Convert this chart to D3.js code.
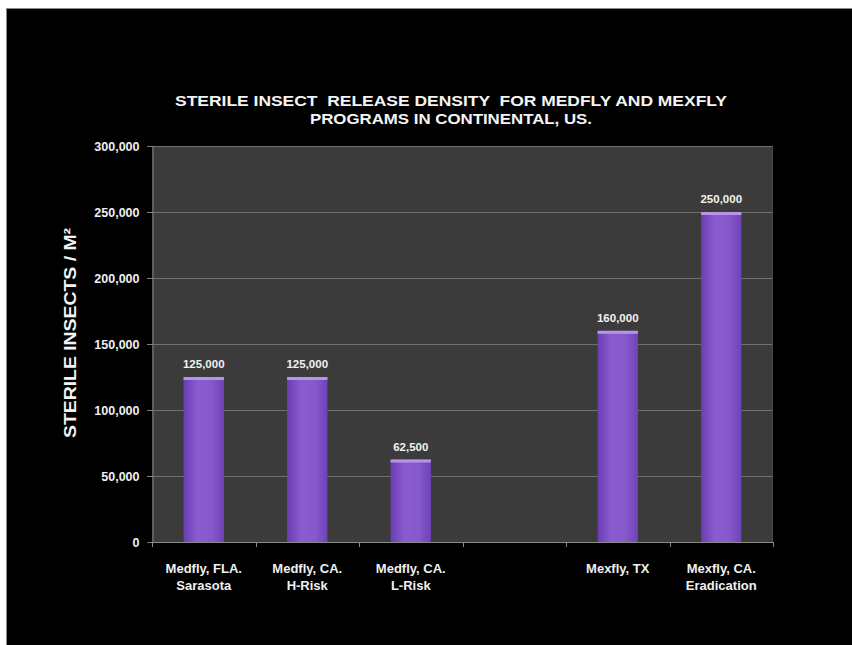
<!DOCTYPE html>
<html>
<head>
<meta charset="utf-8">
<script src="https://cdn.jsdelivr.net/npm/d3@7"></script>
<style>
  html, body { margin: 0; padding: 0; background: #ffffff; }
  svg { display: block; }
  text { font-family: "Liberation Sans", Arial, sans-serif; }
</style>
</head>
<body>
<svg id="chart" width="852" height="645"></svg>
<script>
// ---- data ----
const categoryLine1 = ["Medfly, FLA.", "Medfly, CA.", "Medfly, CA.", "", "Mexfly, TX", "Mexfly, CA."];
const categoryLine2 = ["Sarasota", "H-Risk", "L-Risk", "", "", "Eradication"];
const values = [125000, 125000, 62500, null, 160000, 250000];
const yTicks = [0, 50000, 100000, 150000, 200000, 250000, 300000];
const titleLines = ["STERILE INSECT  RELEASE DENSITY  FOR MEDFLY AND MEXFLY", "PROGRAMS IN CONTINENTAL, US."];
const yTitle = "STERILE INSECTS / M\u00B2";

// ---- layout ----
const svg = d3.select("#chart");
const plot = { left: 152, right: 773, top: 146, bottom: 542 };

// outer black slide frame
svg.append("rect").attr("x", 6.5).attr("y", 8.5).attr("width", 850).attr("height", 640)
  .attr("fill", "#000").attr("stroke", "#8a8a8a").attr("stroke-width", 1);

const idx = d3.range(values.length);
const x = d3.scaleBand().domain(idx).range([plot.left, plot.right])
  .paddingInner(0.61).paddingOuter(0.305);
const step = x.step();
const y = d3.scaleLinear().domain([0, 300000]).range([plot.bottom, plot.top]);

const defs = svg.append("defs");
const grad = defs.append("linearGradient").attr("id", "barGrad")
  .attr("x1", "0%").attr("x2", "100%").attr("y1", "0%").attr("y2", "0%");
grad.append("stop").attr("offset", "0%").attr("stop-color", "#6a3db4");
grad.append("stop").attr("offset", "35%").attr("stop-color", "#8b5ccf");
grad.append("stop").attr("offset", "70%").attr("stop-color", "#8658cb");
grad.append("stop").attr("offset", "100%").attr("stop-color", "#6e42b8");

// plot background
svg.append("rect").attr("x", plot.left).attr("y", plot.top)
  .attr("width", plot.right - plot.left).attr("height", plot.bottom - plot.top)
  .attr("fill", "#3b3b3b");

// gridlines
svg.append("g").selectAll("line").data(yTicks.filter(d => d > 0)).join("line")
  .attr("x1", plot.left - 5).attr("x2", plot.right)
  .attr("y1", d => Math.round(y(d)) + 0.5).attr("y2", d => Math.round(y(d)) + 0.5)
  .attr("stroke", "#707070").attr("stroke-width", 1);

// right border line
svg.append("line").attr("x1", plot.right - 0.5).attr("x2", plot.right - 0.5)
  .attr("y1", plot.top).attr("y2", plot.bottom).attr("stroke", "#4a4a4a");

// y axis
const yAxis = d3.axisLeft(y).tickValues(yTicks).tickSize(5).tickPadding(8)
  .tickFormat(d3.format(","));
const gy = svg.append("g").attr("transform", `translate(${plot.left + 0.5},0)`).call(yAxis);
gy.select(".domain").attr("stroke", "#808080");
gy.selectAll(".tick line").attr("stroke", "#808080");
gy.selectAll(".tick text").attr("fill", "#f0f0f0").attr("font-size", 12.5)
  .attr("font-weight", "bold").attr("font-family", "Liberation Sans, Arial, sans-serif");

// bars
svg.append("g").selectAll("rect").data(idx.filter(i => values[i] != null)).join("rect")
  .attr("x", i => x(i)).attr("y", i => y(values[i]))
  .attr("width", x.bandwidth()).attr("height", i => y(0) - y(values[i]))
  .attr("fill", "url(#barGrad)");
// highlight top cap
svg.append("g").selectAll("rect").data(idx.filter(i => values[i] != null)).join("rect")
  .attr("x", i => x(i)).attr("y", i => y(values[i]))
  .attr("width", x.bandwidth()).attr("height", 3)
  .attr("fill", "#b595e6");

// value labels
svg.append("g").selectAll("text").data(idx.filter(i => values[i] != null)).join("text")
  .attr("x", i => x(i) + x.bandwidth() / 2).attr("y", i => y(values[i]) - 9)
  .attr("text-anchor", "middle").attr("fill", "#f2f2f2")
  .attr("font-size", 11.5).attr("font-weight", "bold")
  .text(i => d3.format(",")(values[i]));

// x axis line and ticks at slot boundaries
svg.append("line").attr("x1", plot.left).attr("x2", plot.right)
  .attr("y1", plot.bottom + 0.5).attr("y2", plot.bottom + 0.5).attr("stroke", "#8a8a8a");
svg.append("g").selectAll("line").data(d3.range(values.length + 1)).join("line")
  .attr("x1", k => Math.round(plot.left + k * step) + 0.5)
  .attr("x2", k => Math.round(plot.left + k * step) + 0.5)
  .attr("y1", plot.bottom).attr("y2", plot.bottom + 5).attr("stroke", "#8a8a8a");

// x category labels
const xl = svg.append("g");
xl.selectAll("text.l1").data(idx).join("text").attr("class", "l1")
  .attr("x", i => x(i) + x.bandwidth() / 2).attr("y", 573)
  .attr("text-anchor", "middle").attr("fill", "#f0f0f0")
  .attr("font-size", 13).attr("font-weight", "bold")
  .text(i => categoryLine1[i]);
xl.selectAll("text.l2").data(idx).join("text").attr("class", "l2")
  .attr("x", i => x(i) + x.bandwidth() / 2).attr("y", 590)
  .attr("text-anchor", "middle").attr("fill", "#f0f0f0")
  .attr("font-size", 13).attr("font-weight", "bold")
  .text(i => categoryLine2[i]);

// title
svg.append("text").attr("x", 451).attr("y", 106).attr("text-anchor", "middle")
  .attr("fill", "#f4f4f4").attr("font-size", 15).attr("font-weight", "bold")
  .attr("textLength", 552).attr("lengthAdjust", "spacingAndGlyphs")
  .style("white-space", "pre").text(titleLines[0]);
svg.append("text").attr("x", 451).attr("y", 124).attr("text-anchor", "middle")
  .attr("fill", "#f4f4f4").attr("font-size", 15).attr("font-weight", "bold")
  .attr("textLength", 282).attr("lengthAdjust", "spacingAndGlyphs")
  .text(titleLines[1]);

// y axis title
svg.append("text").attr("transform", "translate(76,333) rotate(-90)")
  .attr("text-anchor", "middle").attr("fill", "#f4f4f4")
  .attr("font-size", 16).attr("font-weight", "bold")
  .attr("textLength", 210).attr("lengthAdjust", "spacingAndGlyphs")
  .text(yTitle);
</script>
</body>
</html>
